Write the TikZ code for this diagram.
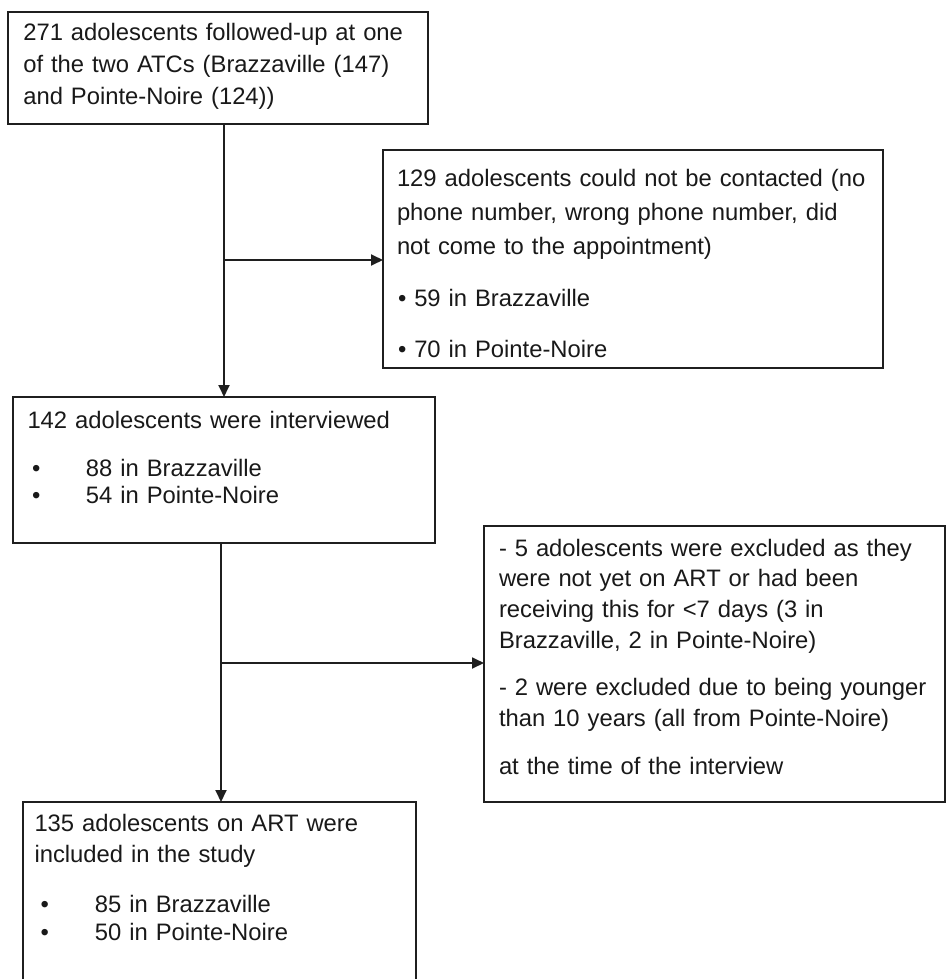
\documentclass[tikz,border=0pt]{standalone}
\usepackage{fontspec}
\setmainfont{Liberation Sans}
\usetikzlibrary{arrows.meta}
\begin{document}
\begin{tikzpicture}[x=1pt,y=-1pt,
  boxstyle/.style={draw=black!88, line width=1.6pt, inner sep=0pt, outer sep=0pt, anchor=north west},
  txt/.style={inner sep=0pt, outer sep=0pt, anchor=base west, align=left, text=black!90,
              font=\fontsize{23.8}{#1}\selectfont},
  conn/.style={draw=black!88, line width=1.8pt},
  arr/.style={conn, -{Triangle[length=12pt,width=11pt]}}]
\useasboundingbox (0,0) rectangle (948,979);
\fill[white] (0,0) rectangle (948,979);

% boxes
\node[boxstyle, minimum width=420pt, minimum height=112pt] (box1) at (8,12) {};
\node[boxstyle, minimum width=500pt, minimum height=218pt] (box2) at (383,150) {};
\node[boxstyle, minimum width=422pt, minimum height=146pt] (box3) at (13,397) {};
\node[boxstyle, minimum width=461pt, minimum height=276pt] (box4) at (484,526) {};
\node[boxstyle, minimum width=393pt, minimum height=190pt] (box5) at (23,802) {};

% texts
\node[txt=32, text width=400pt] (t1) at (23.3,41) {%
\makebox[388pt][s]{271 adolescents followed-up at one}\\
\makebox[388pt][s]{of the two ATCs (Brazzaville (147)}\\
and Pointe-Noire (124))};

\node[txt=34, text width=480pt] (t2) at (397,186) {%
129 adolescents could not be contacted (no\\
phone number, wrong phone number, did\\
not come to the appointment)\\[18pt]
\hspace*{1pt}• 59 in Brazzaville\\[17pt]
\hspace*{1pt}• 70 in Pointe-Noire};

\node[txt=27, text width=400pt] (t3) at (27.5,428) {%
142 adolescents were interviewed\\[21pt]
\hspace*{4.5pt}\makebox[54pt][l]{•}88 in Brazzaville\\
\hspace*{4.5pt}\makebox[54pt][l]{•}54 in Pointe-Noire};

\node[txt=30.7, text width=440pt] (t4) at (499,556) {%
- 5 adolescents were excluded as they\\
were not yet on ART or had been\\
receiving this for <7 days (3 in\\
Brazzaville, 2 in Pointe-Noire)\\[17pt]
- 2 were excluded due to being younger\\
than 10 years (all from Pointe-Noire)\\[17pt]
at the time of the interview};

\node[txt=31, text width=380pt] (t5) at (34.5,831) {%
135 adolescents on ART were\\
included in the study\\[19pt]
\hspace*{6pt}\makebox[54.5pt][l]{•}85 in Brazzaville\\[-3pt]
\hspace*{6pt}\makebox[54.5pt][l]{•}50 in Pointe-Noire};

% connectors
\coordinate (j1) at (224,260);
\coordinate (j2) at (221,663);
\draw[arr] (j1 |- box1.south) -- (j1 |- box3.north);
\draw[arr] (j1) -- (j1 -| box2.west);
\draw[arr] (j2 |- box3.south) -- (j2 |- box5.north);
\draw[arr] (j2) -- (j2 -| box4.west);
\end{tikzpicture}
\end{document}
